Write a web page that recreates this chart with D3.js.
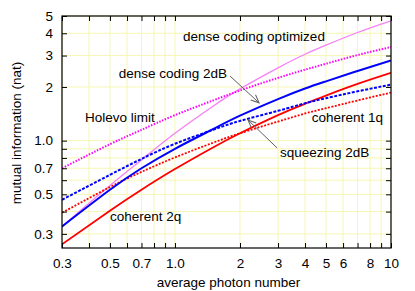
<!DOCTYPE html>
<html>
<head>
<meta charset="utf-8">
<script src="https://cdn.jsdelivr.net/npm/d3@7"></script>
<style>
body { margin: 0; background: #fff; }
svg text { font-family: 'Liberation Sans', Arial, sans-serif; font-size: 13.5px; fill: #000; }
</style>
</head>
<body>
<script>
var margin = { top: 16, right: 24, bottom: 43, left: 62 },
    width = 415 - margin.left - margin.right,
    height = 291 - margin.top - margin.bottom;

// values
var photons = [0.3, 0.5, 0.7, 1, 1.5, 2, 3, 4, 5, 7, 10];
var denseOptimized = [0.33, 0.56, 0.78, 1.10, 1.56, 1.95, 2.56, 3.05, 3.43, 4.04, 4.70];
var holevo = [0.70, 0.955, 1.15, 1.39, 1.68, 1.91, 2.25, 2.50, 2.70, 3.02, 3.35];
var dense2dB = [0.33, 0.53, 0.70, 0.90, 1.16, 1.38, 1.71, 1.96, 2.15, 2.46, 2.82];
var squeezing2dB = [0.466, 0.643, 0.79, 0.96, 1.15, 1.29, 1.47, 1.62, 1.73, 1.89, 2.06];
var coherent1q = [0.394, 0.549, 0.668, 0.805, 0.973, 1.10, 1.28, 1.42, 1.52, 1.68, 1.86];
var coherent2q = [0.262, 0.405, 0.531, 0.693, 0.916, 1.10, 1.39, 1.61, 1.79, 2.08, 2.40];

var xMajor = [0.3, 0.5, 0.7, 1, 2, 3, 4, 5, 6, 8, 10];
var xMajorLabels = ['0.3', '0.5', '0.7', '1.0', '2', '3', '4', '5', '6', '8', '10'];
var xMinor = [0.4, 0.6, 0.8, 0.9, 7, 9];
var yMajor = [0.3, 0.5, 0.7, 1, 2, 3, 4, 5];
var yMajorLabels = ['0.3', '0.5', '0.7', '1.0', '2', '3', '4', '5'];
var yMinor = [0.4, 0.6, 0.8, 0.9];

var series = [
    { values: denseOptimized, color: '#f77ff7', w: 1.3, dash: null },
    { values: holevo, color: '#ff00ff', w: 2, dash: '1.5,1.5' },
    { values: coherent1q, color: '#ff0000', w: 1.8, dash: '2,1.5' },
    { values: coherent2q, color: '#ff0000', w: 1.8, dash: null },
    { values: squeezing2dB, color: '#0000ff', w: 2, dash: '3,1.5' },
    { values: dense2dB, color: '#0000ff', w: 2, dash: null }
];

// gnuplot style labels, anchored in data coordinates
var labels = [
    { text: 'dense coding optimized', x: 1.09, y: 3.62, anchor: 'start' },
    { text: 'dense coding 2dB', x: 1.74, y: 2.245, anchor: 'end' },
    { text: 'Holevo limit', x: 0.383, y: 1.264, anchor: 'start' },
    { text: 'coherent 1q', x: 4.30, y: 1.264, anchor: 'start' },
    { text: 'squeezing 2dB', x: 3.06, y: 0.81, anchor: 'start' },
    { text: 'coherent 2q', x: 0.50, y: 0.354, anchor: 'start' }
];
var arrows = [
    { x1: 1.80, y1: 2.30, x2: 2.45, y2: 1.63 },
    { x1: 2.97, y1: 0.91, x2: 2.18, y2: 1.305 }
];

var svg = d3
    .select('body')
    .append('svg')
    .attr('width', width + margin.left + margin.right)
    .attr('height', height + margin.top + margin.bottom)
    .append('g')
    .attr('transform', 'translate(' + margin.left + ',' + margin.top + ')');

var xScale = d3.scaleLog().domain([0.3, 10]).range([0, width]);
var yScale = d3.scaleLog().domain([0.25, 5]).range([height, 0]);

var xAll = xMajor.concat(xMinor);
var yAll = yMajor.concat(yMinor);

// grid
svg.append('g')
    .selectAll('line')
    .data(xAll)
    .enter()
    .append('line')
    .attr('x1', function (d) { return xScale(d); })
    .attr('x2', function (d) { return xScale(d); })
    .attr('y1', 0)
    .attr('y2', height)
    .attr('stroke', '#f6f6b4')
    .attr('stroke-width', 1);
svg.append('g')
    .selectAll('line')
    .data(yAll)
    .enter()
    .append('line')
    .attr('y1', function (d) { return yScale(d); })
    .attr('y2', function (d) { return yScale(d); })
    .attr('x1', 0)
    .attr('x2', width)
    .attr('stroke', '#f6f6b4')
    .attr('stroke-width', 1);

svg.append('clipPath')
    .attr('id', 'clip')
    .append('rect')
    .attr('width', width)
    .attr('height', height);

var line = d3.line()
    .x(function (d) { return xScale(d[0]); })
    .y(function (d) { return yScale(d[1]); })
    .curve(d3.curveNatural);

svg.append('g')
    .attr('clip-path', 'url(#clip)')
    .selectAll('path')
    .data(series)
    .enter()
    .append('path')
    .attr('d', function (s) {
        return line(photons.map(function (p, i) { return [p, s.values[i]]; }));
    })
    .attr('fill', 'none')
    .attr('stroke', function (s) { return s.color; })
    .attr('stroke-width', function (s) { return s.w; })
    .attr('stroke-dasharray', function (s) { return s.dash; });

// axes, ticks inward on all four sides
function fmt(ticks, names) {
    return function (d) {
        var i = ticks.indexOf(d);
        return i < 0 ? '' : names[i];
    };
}

var axisB = svg.append('g')
    .attr('transform', 'translate(0,' + height + ')')
    .call(d3.axisBottom(xScale).tickValues(xAll).tickFormat(fmt(xMajor, xMajorLabels))
        .tickSizeInner(-5).tickSizeOuter(0).tickPadding(10));
var axisL = svg.append('g')
    .call(d3.axisLeft(yScale).tickValues(yAll).tickFormat(fmt(yMajor, yMajorLabels))
        .tickSizeInner(-5).tickSizeOuter(0).tickPadding(9));
var axisT = svg.append('g')
    .call(d3.axisTop(xScale).tickValues(xAll).tickFormat('').tickSizeInner(-5).tickSizeOuter(0));
var axisR = svg.append('g')
    .attr('transform', 'translate(' + width + ',0)')
    .call(d3.axisRight(yScale).tickValues(yAll).tickFormat('').tickSizeInner(-5).tickSizeOuter(0));

[axisB, axisL, axisT, axisR].forEach(function (a) {
    a.select('.domain').remove();
    a.attr('font-size', null).attr('font-family', null);
    a.selectAll('line').attr('stroke', '#000');
});

svg.append('rect')
    .attr('width', width)
    .attr('height', height)
    .attr('fill', 'none')
    .attr('stroke', '#000')
    .attr('stroke-width', 1.2);

// annotations
svg.append('defs')
    .append('marker')
    .attr('id', 'head')
    .attr('viewBox', '-10 -5 12 10')
    .attr('refX', 0)
    .attr('refY', 0)
    .attr('markerWidth', 12)
    .attr('markerHeight', 10)
    .attr('markerUnits', 'userSpaceOnUse')
    .attr('orient', 'auto')
    .append('path')
    .attr('d', 'M-8,-3.5L0,0L-8,3.5')
    .attr('fill', 'none')
    .attr('stroke', '#606060')
    .attr('stroke-width', 1);

svg.append('g')
    .selectAll('line')
    .data(arrows)
    .enter()
    .append('line')
    .attr('x1', function (d) { return xScale(d.x1); })
    .attr('y1', function (d) { return yScale(d.y1); })
    .attr('x2', function (d) { return xScale(d.x2); })
    .attr('y2', function (d) { return yScale(d.y2); })
    .attr('stroke', '#606060')
    .attr('stroke-width', 1)
    .attr('marker-end', 'url(#head)');

svg.append('g')
    .selectAll('text')
    .data(labels)
    .enter()
    .append('text')
    .attr('x', function (d) { return xScale(d.x); })
    .attr('y', function (d) { return yScale(d.y); })
    .attr('text-anchor', function (d) { return d.anchor; })
    .text(function (d) { return d.text; });

svg.append('text')
    .attr('x', width / 2 + 2)
    .attr('y', height + 39)
    .attr('text-anchor', 'middle')
    .text('average photon number');

svg.append('text')
    .attr('transform', 'translate(' + (21 - margin.left) + ',' + (height / 2 + 1) + ') rotate(-90)')
    .attr('text-anchor', 'middle')
    .text('mutual information (nat)');
</script>
</body>
</html>
